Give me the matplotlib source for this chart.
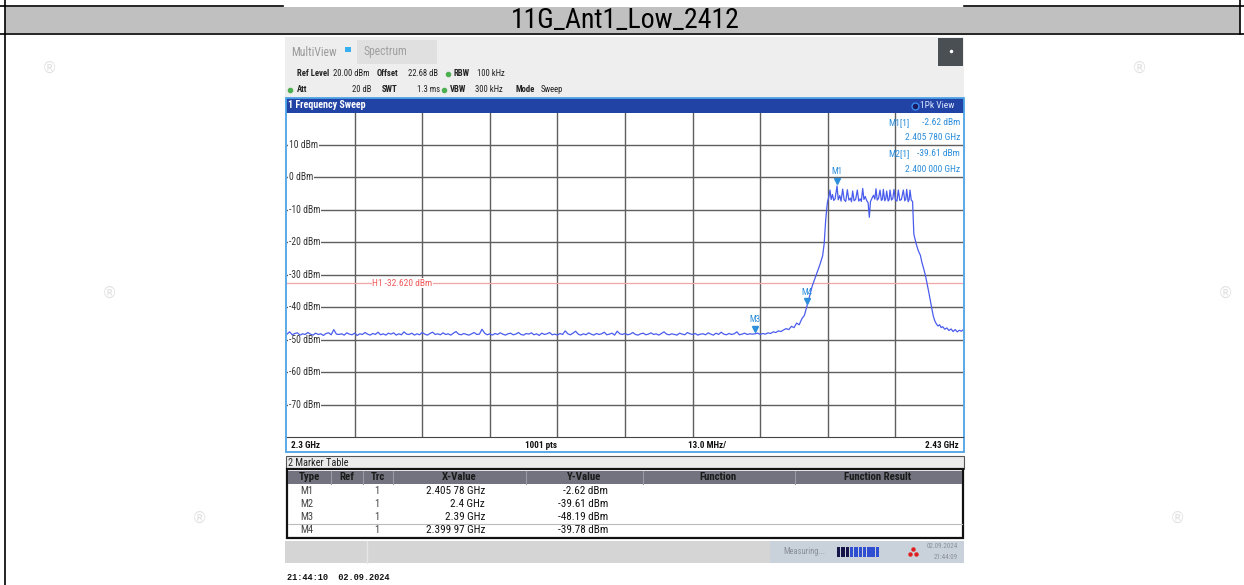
import matplotlib
matplotlib.use("Agg")
import matplotlib.pyplot as plt
import matplotlib.patches as mpatches
import matplotlib.transforms as mtransforms
import numpy as np

W, H = 1244, 585

# ---- sweep settings (from the screen) ----
f_start, f_stop = 2.300, 2.430          # GHz
y_top, y_bottom = 20, -80               # dBm
y_ticks = [10, 0, -10, -20, -30, -40, -50, -60, -70]
x_grid = [2.313, 2.326, 2.339, 2.352, 2.365, 2.378, 2.391, 2.404, 2.417]
h1_level = -32.62

# ---- trace: noise floor 2.300 .. 2.390 GHz, 0.5 MHz apart ----
noise_levels = [
    -48.3, -47.6, -48.5, -48.1, -47.9, -48.6, -48.2, -48.4, -47.8, -48.3,
    -48.6, -48.0, -48.4, -48.2, -48.7, -48.1, -47.9, -48.5, -46.9, -48.3,
    -48.4, -48.2, -48.6, -47.9, -48.3, -48.5, -48.0, -48.7, -48.2, -48.4,
    -47.8, -48.3, -48.6, -48.1, -48.4, -47.7, -48.5, -48.2, -48.6, -48.0,
    -48.3, -47.9, -48.6, -48.2, -48.5, -47.6, -48.3, -48.4, -48.0, -48.6,
    -48.2, -48.5, -47.8, -48.3, -48.6, -48.1, -47.7, -48.4, -48.2, -48.5,
    -47.9, -48.4, -48.2, -48.6, -48.0, -47.5, -48.3, -48.5, -48.1, -48.4,
    -48.6, -48.2, -47.8, -48.4, -48.3, -46.8, -48.0, -48.5, -48.2, -48.6,
    -48.1, -48.4, -47.9, -48.3, -48.6, -48.2, -48.0, -48.5, -48.3, -47.8,
    -48.4, -48.6, -48.1, -48.3, -47.9, -48.5, -48.2, -48.7, -48.0, -48.4,
    -48.2, -47.8, -48.5, -48.3, -48.6, -48.1, -48.4, -47.3, -48.2, -48.5,
    -48.0, -47.4, -48.3, -48.6, -48.2, -48.5, -47.9, -48.3, -48.6, -48.1,
    -48.4, -48.2, -47.7, -48.5, -48.3, -48.0, -48.6, -47.4, -48.2, -48.4,
    -48.1, -48.5, -48.3, -47.8, -48.4, -48.6, -48.2, -48.0, -48.5, -48.3,
    -47.9, -48.4, -48.2, -48.6, -48.1, -47.6, -48.3, -48.5, -48.2, -48.4,
    -48.6, -48.0, -48.3, -48.5, -47.8, -48.2, -48.4, -48.1, -48.6, -48.3,
    -48.2, -48.5, -47.9, -48.3, -48.6, -48.0, -48.4, -47.7, -48.3, -48.5,
    -48.1, -48.4, -48.2, -47.6, -48.5, -48.3, -48.0, -48.4, -48.2, -48.3,
    -48.2,
]
noise_freq = np.linspace(2.300, 2.390, len(noise_levels))

# ---- trace: skirt + channel + skirt (GHz, dBm) ----
sig_freq = [
    2.3905, 2.3910, 2.3915, 2.3920, 2.3925, 2.3930, 2.3935, 2.3940, 2.3945, 2.3950,
    2.3955, 2.3960, 2.3965, 2.3970, 2.3975, 2.3980, 2.3985, 2.3990, 2.3995, 2.39997,
    2.4000, 2.4005, 2.4010, 2.4015, 2.4020, 2.4025, 2.4030, 2.4033, 2.4036, 2.4039,
    2.40400, 2.40420, 2.40442, 2.40465, 2.40490, 2.40515, 2.40540, 2.40578, 2.40600, 2.40630,
    2.40655, 2.40686, 2.40715, 2.40745, 2.40776, 2.40805, 2.40835, 2.40855, 2.40878, 2.40905,
    2.40935, 2.40968, 2.40995, 2.41025, 2.41045, 2.41071, 2.41095, 2.41120, 2.41150, 2.41175,
    2.41199, 2.41220, 2.41250, 2.41280, 2.41305, 2.41327, 2.41350, 2.41375, 2.41404, 2.41430,
    2.41450, 2.41468, 2.41495, 2.41515, 2.41532, 2.41560, 2.41580, 2.41596, 2.41625, 2.41650,
    2.41673, 2.41700, 2.41730, 2.41756, 2.41785, 2.41815, 2.41853, 2.41880, 2.41900, 2.41917,
    2.41945, 2.41965, 2.41981, 2.42005, 2.42030, 2.42055, 2.42100, 2.42140, 2.42180, 2.42210,
    2.42250, 2.42280, 2.42310, 2.42340, 2.42370, 2.42400, 2.42430, 2.42460, 2.42490, 2.42520,
    2.42550, 2.42580, 2.42610, 2.42650, 2.42690, 2.42730, 2.42770, 2.42810, 2.42850, 2.42890,
    2.42930, 2.42970, 2.43000,
]
sig_levels = [
    -48.0, -48.4, -48.1, -48.3, -47.9, -48.1, -47.6, -47.8, -47.3, -47.5,
    -47.0, -46.6, -46.9, -45.9, -46.3, -44.9, -45.4, -43.6, -42.5, -39.78,
    -39.61, -36.5, -33.5, -31.3, -29.0, -26.8, -24.2, -20.5, -13.0, -8.0,
    -7.2, -6.0, -3.9, -6.8, -5.3, -7.1, -6.6, -2.62, -6.9, -5.6,
    -7.3, -3.6, -6.9, -7.4, -3.8, -7.0, -6.4, -7.5, -4.2, -7.2,
    -6.8, -3.9, -7.3, -6.6, -7.4, -3.4, -6.8, -5.9, -7.2, -7.8,
    -12.3, -7.5, -6.4, -5.5, -6.7, -3.5, -7.0, -6.5, -3.9, -7.1,
    -6.8, -3.7, -7.2, -6.6, -4.2, -7.3, -6.9, -3.9, -7.0, -6.5,
    -3.7, -6.9, -7.3, -3.9, -7.1, -6.8, -3.9, -7.2, -6.7, -3.7,
    -7.5, -6.8, -3.9, -7.0, -7.4, -17.5, -20.5, -22.6, -24.0, -26.2,
    -28.5, -30.4, -32.8, -35.2, -37.8, -40.4, -42.8, -44.3, -45.2, -45.8,
    -45.4, -46.3, -46.0, -46.8, -46.4, -47.2, -46.7, -47.5, -46.9, -47.6,
    -47.1, -47.4, -47.0,
]

# ---- markers ----
marker_names = ["M1", "M2", "M3", "M4"]
marker_trc = ["1", "1", "1", "1"]
marker_freq = [2.40578, 2.400, 2.390, 2.39997]
marker_level = [-2.62, -39.61, -48.19, -39.78]
marker_xtxt = ["2.405 78 GHz", "2.4 GHz", "2.39 GHz", "2.399 97 GHz"]
marker_ytxt = ["-2.62 dBm", "-39.61 dBm", "-48.19 dBm", "-39.78 dBm"]
shown_on_trace = ["M1", "M3", "M4"]

NARROW = ["Roboto Condensed", "Liberation Sans Narrow", "DejaVu Sans"]
MONO = ["Liberation Mono", "DejaVu Sans Mono"]
TRACE_C = "#4A5CEC"
MARK_C = "#2D8FDB"
PANEL_C = "#4DA3E6"
BAR_C = "#2143A6"

fig = plt.figure(figsize=(W / 100, H / 100), dpi=100)
bg = fig.add_axes([0, 0, 1, 1])
bg.set_xlim(0, W)
bg.set_ylim(H, 0)
bg.axis("off")


def rect(x0, y0, x1, y1, fc, ec="none", lw=0, z=2):
    bg.add_patch(mpatches.Rectangle((x0, y0), x1 - x0, y1 - y0, facecolor=fc,
                                    edgecolor=ec, linewidth=lw, zorder=z))


def txt(x, y, s, size=6.2, color="#333333", ha="left", weight="normal", family=NARROW, z=5):
    bg.text(x, y, s, fontsize=size, color=color, ha=ha, va="center", fontweight=weight,
            family=family, fontstretch="condensed", zorder=z)


def px_rect(x0, y0, x1, y1):
    return [x0 / W, 1 - y1 / H, (x1 - x0) / W, (y1 - y0) / H]


# ---- faint watermark marks ----
for (x, y) in [(50, 68), (1140, 68), (110, 293), (1226, 293), (200, 518), (1177, 518)]:
    bg.text(x, y, "\u00ae", fontsize=11, color="#E2E2E2", ha="center", va="center", zorder=0)

# ---- document frame and title row ----
rect(5, 7, 1240, 33, "#C0C0C0", z=1)
bg.plot([0, 283], [6, 6], color="black", lw=1.2, zorder=3)
bg.plot([964, W], [6, 6], color="black", lw=1.2, zorder=3)
bg.plot([0, W], [33.5, 33.5], color="black", lw=1.2, zorder=3)
bg.plot([4.5, 4.5], [0, H], color="black", lw=1.2, zorder=3)
bg.plot([1240, 1240], [0, 34], color="black", lw=1.2, zorder=3)
bg.text(625, 20.5, "11G_Ant1_Low_2412", fontsize=20, color="black", ha="center",
        va="center", family=NARROW, fontstretch="condensed", zorder=5)

# ---- analyzer header ----
rect(285, 37, 964, 97, "#EEEEEE")
txt(291, 52, "MultiView", size=8.4, color="#9A9A9A")
rect(345, 47, 351, 52, "#38B0F0", z=4)
rect(357, 40, 437, 64, "#E0E0E0", z=3)
txt(364, 52, "Spectrum", size=8.4, color="#A0A0A0")
rect(938, 38, 963, 66, "#4A4F54", z=3)
bg.plot([950.5], [51], marker="o", ms=1.5, color="white", zorder=5)

hdr2 = [("Ref Level", 297, "bold"), ("20.00 dBm", 333, "normal"), ("Offset", 377, "bold"),
        ("22.68 dB", 408, "normal"), ("RBW", 454, "bold"), ("100 kHz", 477, "normal")]
hdr3 = [("Att", 297, "bold"), ("20 dB", 352, "normal"), ("SWT", 382, "bold"),
        ("1.3 ms", 417, "normal"), ("VBW", 450, "bold"), ("300 kHz", 475, "normal"),
        ("Mode", 515, "bold"), ("Sweep", 541, "normal")]
for s, x, w in hdr2:
    txt(x, 74, s, size=6.2, color="#222222", weight=w)
for s, x, w in hdr3:
    txt(x, 90, s, size=6.2, color="#222222", weight=w)
for (x, y) in [(448, 74), (290, 90), (444, 90)]:
    bg.plot([x], [y], marker="o", ms=3, color="#4CAF50", zorder=5)

# ---- sweep window frame ----
rect(286, 98, 964, 112.5, BAR_C, z=3)
txt(288, 105.5, "1 Frequency Sweep", size=7.2, color="white", weight="bold")
bg.plot([915], [105.5], marker="o", ms=5, color="#1A1A60", mec="#3A8AF0", mew=1, zorder=5)
txt(920, 105.5, "1Pk View", size=6.8, color="#DDE6FF")
rect(286, 437, 964, 452, "white", z=3)
rect(286, 98, 964, 452, "none", ec=PANEL_C, lw=1.3, z=4)
txt(291, 445, "2.3 GHz", size=6.6, color="#111111", weight="bold")
txt(541, 445, "1001 pts", size=6.6, color="#111111", weight="bold", ha="center")
txt(707, 445, "13.0 MHz/", size=6.6, color="#111111", weight="bold", ha="center")
txt(959, 445, "2.43 GHz", size=6.6, color="#111111", weight="bold", ha="right")

# ---- spectrum plot ----
ax = fig.add_axes(px_rect(287, 112.5, 963, 437))
ax.set_xlim(f_start, f_stop)
ax.set_ylim(y_bottom, y_top)
ax.set_xticks(x_grid)
ax.set_yticks(y_ticks)
ax.tick_params(length=0, labelbottom=False, labelleft=False)
ax.grid(True, color="#5E5E5E", lw=1.0)
ax.set_axisbelow(True)
for side in ["top", "left", "right"]:
    ax.spines[side].set_visible(False)
ax.spines["bottom"].set_color("#444444")

lab_tr = mtransforms.blended_transform_factory(ax.transAxes, ax.transData)
for v in y_ticks:
    ax.text(2 / 676, v, f"{v} dBm", transform=lab_tr, fontsize=6.9, color="#333333",
            va="center", ha="left", family=NARROW, fontstretch="condensed", zorder=2,
            bbox=dict(facecolor="white", edgecolor="none", pad=0.4))

ax.axhline(h1_level, color="#F2A5A5", lw=0.9, zorder=1.5)
ax.text(85 / 676, h1_level, "H1 -32.620 dBm", transform=lab_tr, fontsize=6.8,
        color="#F05A5A", va="center", ha="left", family=NARROW, fontstretch="condensed",
        zorder=2, bbox=dict(facecolor="white", edgecolor="none", pad=0.3))

trace_f = np.concatenate([noise_freq, sig_freq])
trace_l = np.concatenate([noise_levels, sig_levels])
ax.plot(trace_f, trace_l, color=TRACE_C, lw=0.9, zorder=3)

tri_tr = mtransforms.offset_copy(ax.transData, fig=fig, x=0, y=5, units="dots")
lab_off = mtransforms.offset_copy(ax.transData, fig=fig, x=0, y=14, units="dots")
for name, f, lv in zip(marker_names, marker_freq, marker_level):
    if name not in shown_on_trace:
        continue
    ax.plot([f], [lv], marker="v", ms=4.5, color=MARK_C, transform=tri_tr, zorder=4)
    ax.text(f, lv, name, transform=lab_off, fontsize=6.4, color=MARK_C, ha="center",
            va="center", family=NARROW, fontstretch="condensed", zorder=4)

# marker readout, top right
info = [("M1[1]", "-2.62 dBm", 122.5), ("", "2.405 780 GHz", 137),
        ("M2[1]", "-39.61 dBm", 153.5), ("", "2.400 000 GHz", 169.5)]
for name, val, ypx in info:
    yf = 1 - (ypx - 112.5) / 324.5
    if name:
        ax.text((888 - 287) / 676, yf, name, transform=ax.transAxes, fontsize=6.8,
                color=MARK_C, va="center", ha="left", family=NARROW,
                fontstretch="condensed", zorder=5)
    ax.text((960 - 287) / 676, yf, val, transform=ax.transAxes, fontsize=6.8,
            color=MARK_C, va="center", ha="right", family=NARROW,
            fontstretch="condensed", zorder=5)

# ---- marker table ----
rect(286, 456, 964, 469, "#EBEBEB", ec="#555555", lw=0.8)
txt(288, 462.5, "2 Marker Table", size=7.4, color="#222222")
rect(287, 469, 963, 538, "white", ec="#111111", lw=1.6, z=2)
rect(288, 470.5, 962, 484, "#73737F", z=3)
for x in [331, 363, 393, 526, 643, 795]:
    bg.plot([x, x], [470.5, 484], color="#9A9AA5", lw=0.8, zorder=4)
heads = [("Type", 309), ("Ref", 347), ("Trc", 378), ("X-Value", 459), ("Y-Value", 584),
         ("Function", 718), ("Function Result", 878)]
for s, x in heads:
    txt(x, 477.5, s, size=7.8, color="#1A1A1A", ha="center", weight="bold")
bg.plot([288, 962], [524, 524], color="#BBBBBB", lw=0.8, zorder=4)
row_y = [491.5, 504, 517, 530]
for name, trc, xs, ys, yy in zip(marker_names, marker_trc, marker_xtxt, marker_ytxt, row_y):
    txt(307, yy, name, size=7.6, color="#444444", ha="center")
    txt(377, yy, trc, size=7.6, color="#444444", ha="center")
    txt(485, yy, xs, size=8.0, color="#111111", ha="right")
    txt(608, yy, ys, size=8.0, color="#111111", ha="right")

# ---- status bar ----
rect(285, 541, 964, 563, "#D5D5D5")
bg.plot([367, 367], [541, 563], color="#E6E6E6", lw=1, zorder=3)
rect(770, 541, 964, 563, "#C9D1DA", z=3)
txt(783, 552, "Measuring...", size=6.2, color="#8A9099")
for i in range(10):
    c = "#15154A" if i < 3 else "#2F4FD0"
    rect(837 + i * 4.3, 547, 837 + i * 4.3 + 3.4, 557, c, z=4)
for (x, y) in [(913, 549), (910, 554), (916, 554)]:
    bg.plot([x], [y], marker="o", ms=2.2, color="#E02020", zorder=5)
txt(958, 547, "02.09.2024", size=5.0, color="#8A9099", ha="right")
txt(958, 557.5, "21:44:09", size=5.0, color="#8A9099", ha="right")

txt(287, 577, "21:44:10  02.09.2024", size=6.2, color="#111111", family=MONO, weight="bold")

fig.savefig("out.png", dpi=100)
